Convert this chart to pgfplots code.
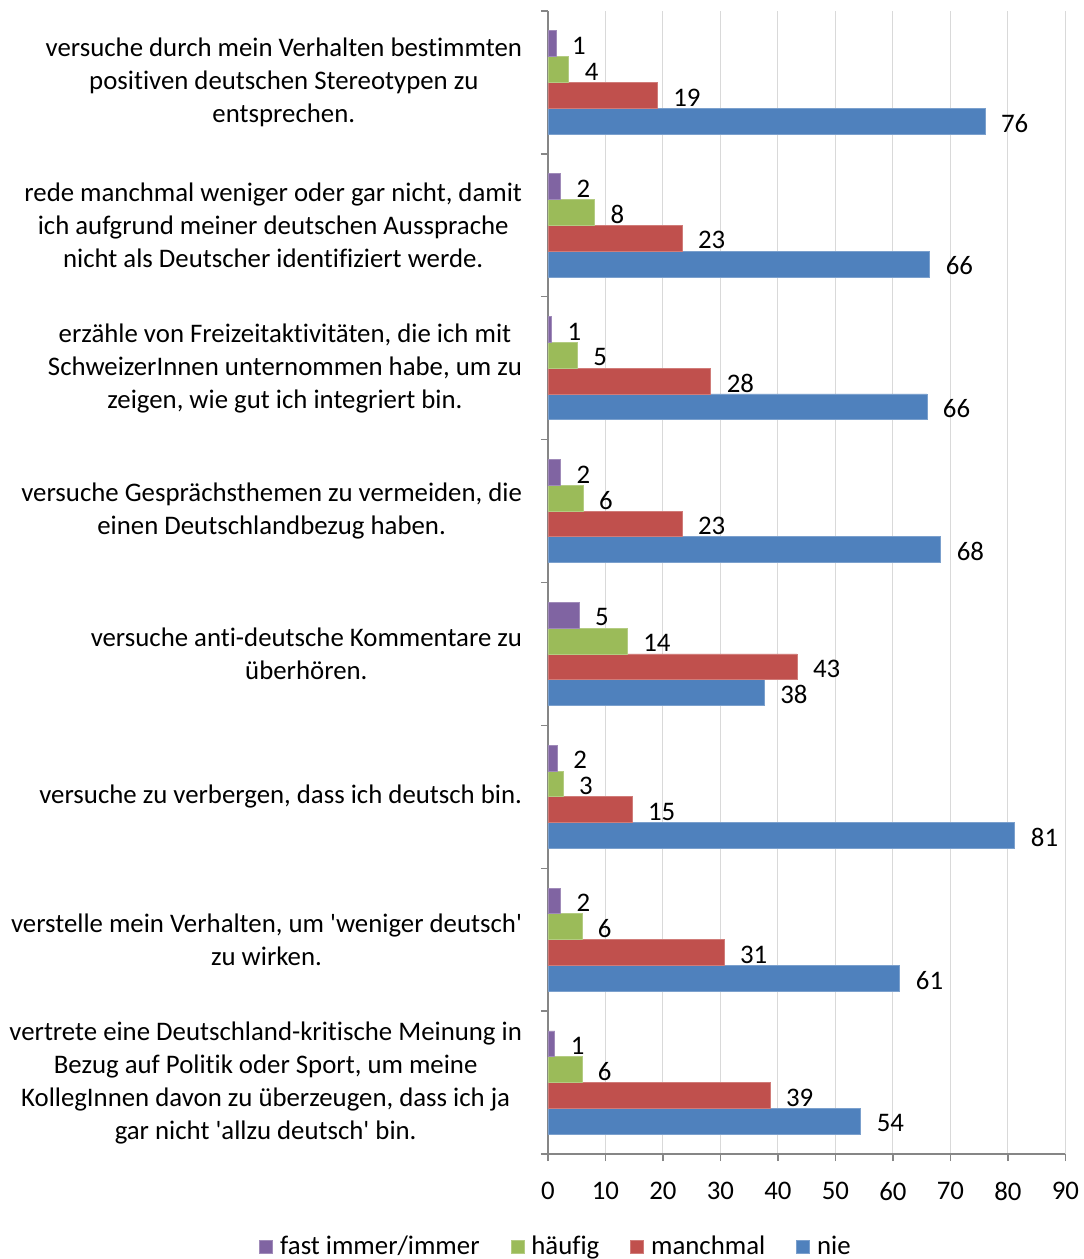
\documentclass[border=0pt]{standalone}
\usepackage{fontspec}
\setmainfont{Carlito}[Ligatures=NoCommon]
\usepackage{pgfplots}
\usepackage{pgfplotstable}
\pgfplotsset{compat=1.18}

\definecolor{xlpurple}{RGB}{128,100,162}
\definecolor{xlgreen}{RGB}{155,187,89}
\definecolor{xlred}{RGB}{192,80,77}
\definecolor{xlblue}{RGB}{79,129,189}
\definecolor{axgray}{RGB}{134,134,134}
\definecolor{gridgray}{RGB}{217,217,217}

% one row per statement, top statement first (y=7 is at the top)
\pgfplotstableread{
y fast haeufig manchmal nie
7 1.4 3.6 19.0 76.0
6 2.2 8.1 23.3 66.4
5 0.6 5.1 28.3 65.9
4 2.2 6.1 23.3 68.3
3 5.4 13.8 43.3 37.6
2 1.6 2.6 14.6 81.2
1 2.2 5.9 30.6 61.2
0 1.2 5.9 38.6 54.4
}\datatable

\begin{document}
\begin{tikzpicture}[font=\fontsize{13.4}{16.5}\selectfont]
\begin{axis}[
  name=ax,
  scale only axis,
  width=258.75pt, height=571.5pt,
  xbar=0pt,
  bar width=12.9pt,
  xmin=0, xmax=90,
  xtick={0,10,...,90},
  ymin=-0.5, ymax=7.5,
  ytick={0,...,7},
  yticklabels={
    {vertrete eine Deutschland-kritische Meinung in\\Bezug auf Politik oder Sport, um meine\\KollegInnen davon zu überzeugen, dass ich ja\\gar nicht \textquotesingle allzu deutsch\textquotesingle\ bin.},
    {verstelle mein Verhalten, um \textquotesingle weniger deutsch\textquotesingle\\zu wirken.},
    {versuche zu verbergen, dass ich deutsch bin.},
    {versuche anti-deutsche Kommentare zu\\überhören.},
    {versuche Gesprächsthemen zu vermeiden, die\\einen Deutschlandbezug haben.},
    {erzähle von Freizeitaktivitäten, die ich mit\\SchweizerInnen unternommen habe, um zu\\zeigen, wie gut ich integriert bin.},
    {rede manchmal weniger oder gar nicht, damit\\ich aufgrund meiner deutschen Aussprache\\nicht als Deutscher identifiziert werde.},
    {versuche durch mein Verhalten bestimmten\\positiven deutschen Stereotypen zu\\entsprechen.}
  },
  minor ytick={-0.5,0.5,...,7.5},
  axis lines*=left,
  axis line style={axgray, line width=0.75pt},
  tick align=outside,
  major tick length=3.5pt,
  minor tick length=3.5pt,
  major x tick style={axgray, line width=0.75pt},
  major y tick style={draw=none},
  minor y tick style={axgray, line width=0.75pt},
  xmajorgrids,
  grid style={gridgray, line width=0.5pt},
  yticklabel style={align=center, xshift=-6pt},
  xticklabel style={yshift=-7pt},
  /pgf/number format/assume math mode=true,
  point meta=x,
  nodes near coords={\pgfmathprintnumber[fixed,precision=0]{\pgfplotspointmeta}},
  every node near coord/.append style={text=black, xshift=4.5pt, yshift=-1pt},
  reverse legend,
  legend columns=-1,
  legend style={at={(rel axis cs:0.0175,-0.0814)}, anchor=center, draw=none, fill=none,
    /tikz/every odd column/.append style={column sep=1.5pt},
    /tikz/every even column/.append style={column sep=13.5pt}},
  every axis plot/.append style={
    legend image code/.code={\fill[##1] (0pt,-3.25pt) rectangle (6.5pt,3.25pt);}},
]
\addplot[fill=xlblue, draw=xlblue!75!white, line width=0.4pt] table[x=nie, y=y] {\datatable};
\addplot[fill=xlred, draw=xlred!75!white, line width=0.4pt] table[x=manchmal, y=y] {\datatable};
\addplot[fill=xlgreen, draw=xlgreen!75!white, line width=0.4pt] table[x=haeufig, y=y] {\datatable};
\addplot[fill=xlpurple, draw=xlpurple!75!white, line width=0.4pt] table[x=fast, y=y] {\datatable};
\legend{nie, manchmal, häufig, fast immer/immer}
\end{axis}
\pgfresetboundingbox
\path[use as bounding box] ([shift={(-274pt,-52.5pt)}]ax.south west) rectangle ([shift={(267.5pt,577pt)}]ax.south west);
\end{tikzpicture}
\end{document}
